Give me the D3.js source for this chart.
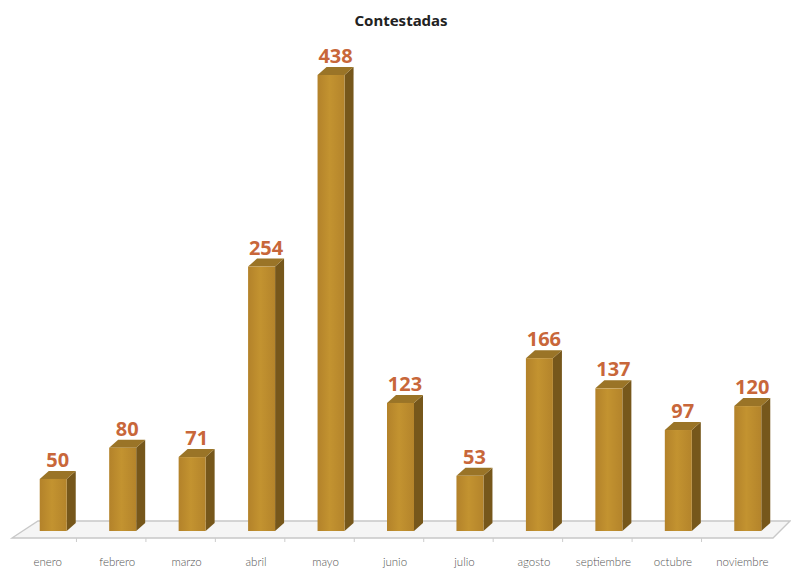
<!DOCTYPE html>
<html>
<head>
<meta charset="utf-8">
<script src="https://cdn.jsdelivr.net/npm/d3@7"></script>
<style>
body{margin:0;background:#fff;}
</style>
</head>
<body>
<div id="chart"></div>
<script>
var w = 791;
var h = 573;

var months = ["enero","febrero","marzo","abril","mayo","junio","julio","agosto","septiembre","octubre","noviembre"];
var values = [50,80,71,254,438,123,53,166,137,97,120];

var depthX = 9, depthY = 8; // 3d look
var baseY = 531;
var barW = 27;

var xScale = d3.scaleBand()
  .domain(months)
  .range([13, 777]);

var yScale = d3.scaleLinear()
  .domain([0, d3.max(values)])
  .range([baseY, 75]);

var svg = d3.select("#chart").append("svg")
  .attr("width", w)
  .attr("height", h);

// gradient for the front face
var grad = svg.append("defs").append("linearGradient")
  .attr("id", "front")
  .attr("x1", "0%").attr("x2", "100%")
  .attr("y1", "0%").attr("y2", "0%");
grad.append("stop").attr("offset", "0%").attr("stop-color", "#b3822a");
grad.append("stop").attr("offset", "45%").attr("stop-color", "#c39330");
grad.append("stop").attr("offset", "100%").attr("stop-color", "#b4842b");

// title
svg.append("text")
  .attr("x", 401)
  .attr("y", 26)
  .attr("text-anchor", "middle")
  .style("font-family", "Noto Sans, sans-serif")
  .style("font-weight", "bold")
  .style("font-size", "15px")
  .style("fill", "#222")
  .text("Contestadas");

// floor
var x0 = xScale.range()[0], x1 = xScale.range()[1];
var floor = svg.append("g");
floor.append("path")
  .attr("d", "M" + (x0 - 1) + "," + 538 + " L" + (x0 + 25) + "," + 521 + " L" + (x1 + 13) + "," + 521 + " L" + (x1 - 4) + "," + 538 + " Z")
  .style("fill", "#f5f5f5")
  .style("stroke", "#c8c8c8")
  .style("stroke-width", 1.3);

floor.selectAll(".tick")
  .data(months.slice(1))
  .enter().append("line")
  .attr("x1", function(d){ return xScale(d) - 6; })
  .attr("x2", function(d){ return xScale(d) - 6; })
  .attr("y1", 538)
  .attr("y2", 542)
  .style("stroke", "#cccccc");

// bars
var bars = svg.selectAll(".bar")
  .data(values)
  .enter().append("g")
  .attr("class", "bar");

function bx(d, i){ return xScale(months[i]) + xScale.bandwidth() / 2 - 8; }

// side
bars.append("path")
  .attr("d", function(d, i){
    var x = bx(d, i) + barW, t = yScale(d);
    return "M" + x + "," + baseY + " L" + (x + depthX) + "," + (baseY - depthY) +
      " L" + (x + depthX) + "," + (t - depthY) + " L" + x + "," + t + " Z";
  })
  .style("fill", "#76571b");

// top
bars.append("path")
  .attr("d", function(d, i){
    var x = bx(d, i), t = yScale(d);
    return "M" + x + "," + t + " L" + (x + depthX) + "," + (t - depthY) +
      " L" + (x + barW + depthX) + "," + (t - depthY) + " L" + (x + barW) + "," + t + " Z";
  })
  .style("fill", "#9a7427");

// front
bars.append("rect")
  .attr("x", function(d, i){ return bx(d, i); })
  .attr("y", function(d){ return yScale(d); })
  .attr("width", barW)
  .attr("height", function(d){ return baseY - yScale(d); })
  .style("fill", "url(#front)");

// value labels
svg.selectAll(".val")
  .data(values)
  .enter().append("text")
  .attr("class", "val")
  .attr("x", function(d, i){ return bx(d, i) + (barW + depthX) / 2; })
  .attr("y", function(d){ return yScale(d) - 12; })
  .attr("text-anchor", "middle")
  .style("font-family", "Noto Sans, sans-serif")
  .style("font-weight", "bold")
  .style("font-size", "20px")
  .style("fill", "#c8673a")
  .text(function(d){ return d; });

// month labels
svg.selectAll(".mlab")
  .data(months)
  .enter().append("text")
  .attr("class", "mlab")
  .attr("x", function(d){ return xScale(d) + xScale.bandwidth() / 2; })
  .attr("y", 566)
  .attr("text-anchor", "middle")
  .style("font-family", "Lato, sans-serif")
  .style("font-weight", "300")
  .style("font-size", "11.5px")
  .style("fill", "#555")
  .text(function(d){ return d; });
</script>
</body>
</html>
